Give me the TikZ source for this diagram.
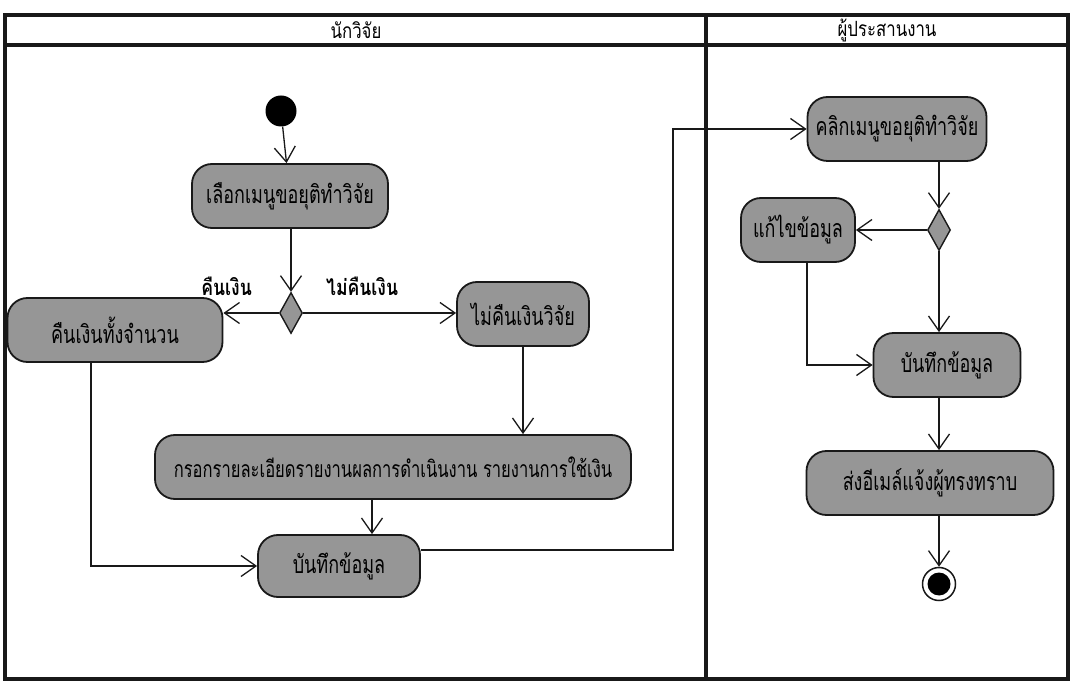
\documentclass[tikz,border=0pt]{standalone}
\usepackage{fontspec}
\newfontfamily\thai[Script=Thai,FakeStretch=0.72]{Loma}
\newfontfamily\thaihead[Script=Thai,FakeStretch=0.8]{Loma}
\usetikzlibrary{arrows.meta,shapes.geometric}
\definecolor{actgray}{RGB}{150,150,150}
\definecolor{ink}{RGB}{25,25,25}
\begin{document}
\begin{tikzpicture}[x=1pt,y=-1pt,
  lane/.style={draw=ink,line width=3.2pt},
  head/.style={inner sep=0pt,font=\thaihead\fontsize{21}{23}\selectfont},
  act/.style={draw=ink,line width=1.8pt,fill=actgray,rounded corners=20pt,
    minimum height=64pt,inner sep=3pt,font=\thai\fontsize{25}{27}\selectfont},
  guard/.style={inner sep=0pt,font=\thaihead\bfseries\fontsize{22}{24}\selectfont},
  decision/.style={diamond,draw=ink,line width=1.4pt,fill=actgray,
    minimum width=23pt,minimum height=41pt,inner sep=0pt},
  flow/.style={draw=ink,line width=1.3pt,
    -{Straight Barb[length=15pt,width=21pt,line width=1.3pt]}},
]
\useasboundingbox (0,0) rectangle (1074,684);
\fill[white] (0,0) rectangle (1074,684);

% swimlanes
\draw[lane] (5,15) rectangle (1068,679);
\draw[lane] (5,45) -- (1068,45);
\draw[lane] (706,15) -- (706,679);
\node[head] (h1) at (356,30) {นักวิจัย};
\node[head] (h2) at (887,30) {ผู้ประสานงาน};

% researcher lane
\node[circle,fill=black,minimum size=31pt,inner sep=0pt] (start) at (281,111) {};
\node[act,minimum width=196pt] (a1) at (290,196) {เลือกเมนูขอยุติทำวิจัย};
\node[decision] (d1) at (291,313) {};
\node[guard,anchor=south east] (g1) at (252,296) {คืนเงิน};
\node[guard,anchor=south west] (g2) at (326,296) {ไม่คืนเงิน};
\node[act,minimum width=215pt] (refund) at (115,330) {คืนเงินทั้งจำนวน};
\node[act,minimum width=132pt] (norefund) at (523,314) {ไม่คืนเงินวิจัย};
\node[act,minimum width=476pt,font=\thai\fontsize{23}{25}\selectfont] (fill) at (393,467) {กรอกรายละเอียดรายงานผลการดำเนินงาน รายงานการใช้เงิน};
\node[act,minimum width=162pt,minimum height=62pt] (save1) at (339,566) {บันทึกข้อมูล};

% coordinator lane
\node[act,minimum width=179pt] (click) at (897,129) {คลิกเมนูขอยุติทำวิจัย};
\node[decision] (d2) at (939,230) {};
\node[act,minimum width=114pt] (edit) at (798,230) {แก้ไขข้อมูล};
\node[act,minimum width=147pt] (save2) at (947,365) {บันทึกข้อมูล};
\node[act,minimum width=247pt] (email) at (930,483) {ส่งอีเมล์แจ้งผู้ทรงทราบ};
\node[circle,draw=ink,fill=white,line width=1.5pt,minimum size=33pt,inner sep=0pt] (stop) at (939,584) {};
\fill[black] (stop.center) circle (11.5pt);

% connector bend points
\coordinate (rx) at (91,0);
\coordinate (fx) at (372,0);
\coordinate (jog) at (673,0);
\coordinate (ex) at (807,0);

% flows
\draw[flow] (start) -- (a1);
\draw[flow] (d1 |- a1.south) -- (d1.north);
\draw[flow] (d1.west) -- (refund.east |- d1);
\draw[flow] (d1.east) -- (norefund.west |- d1);
\draw[flow] (norefund.south) -- (norefund.south |- fill.north);
\draw[flow] (refund.south -| rx) |- (save1.west);
\draw[flow] (fill.south -| fx) -- (save1.north -| fx);
\draw[flow] ([yshift=16pt]save1.east) -| (jog |- click.west) -- (click.west);
\draw[flow] (click.south -| d2) -- (d2.north);
\draw[flow] (d2.west) -- (edit.east |- d2);
\draw[flow] (d2.south) -- (save2.north -| d2);
\draw[flow] (edit.south -| ex) |- (save2.west);
\draw[flow] (save2.south -| d2) -- (email.north -| d2);
\draw[flow] (email.south -| d2) -- (stop.north);
\end{tikzpicture}
\end{document}
